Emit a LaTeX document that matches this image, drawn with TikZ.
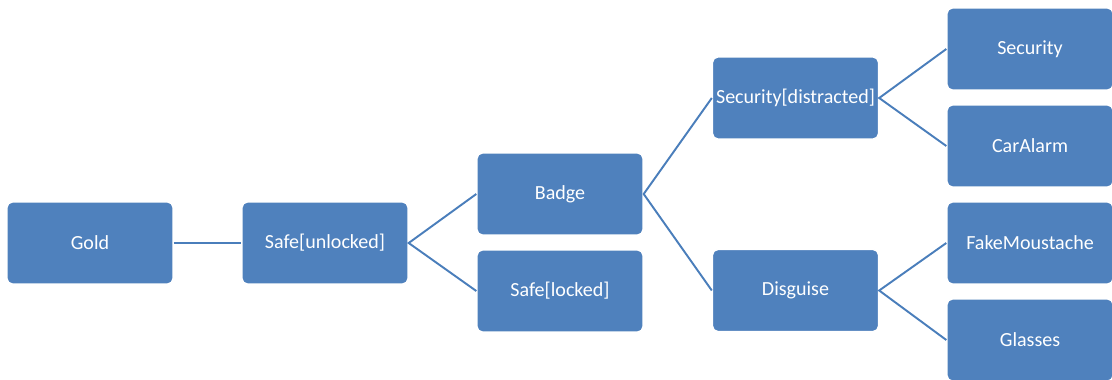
\documentclass[tikz,border=0pt]{standalone}
\usepackage{fontspec}
\setmainfont{Carlito}
\definecolor{boxblue}{HTML}{4F81BD}
\definecolor{lineblue}{HTML}{4A7EBB}

\begin{document}
\begin{tikzpicture}[x=0.02cm, y=-0.02cm,
        box/.style={
        rectangle, rounded corners=3pt, draw=white,
        line width=0.8pt, fill=boxblue, text=white,
        inner sep=0pt, minimum width=3.32cm, minimum height=1.64cm,
        font=\fontsize{11.4}{13}\selectfont},
        link/.style={draw=lineblue, line width=1.1pt},
        ]
        \useasboundingbox (0,0) rectangle (1112,379);

        \node (gold) [box]  at (90,243){Gold};
        \node (safeu) [box]  at (325,243){Safe[unlocked]};
        \node (badge) [box]  at (560,194){Badge};
        \node (safel) [box]  at (560,291){Safe[locked]};
        \node (secd) [box]  at (795.5,98){Security[distracted]};
        \node (disg) [box]  at (795.5,290.5){Disguise};
        \node (sec) [box]  at (1030,49){Security};
        \node (car) [box]  at (1030,146){CarAlarm};
        \node (fake) [box]  at (1030,243){FakeMoustache};
        \node (glass) [box]  at (1030,340){Glasses};

        \draw [link] (gold.east) -- (safeu.west);
        \draw [link] (badge.west) -- (safeu.east) -- (safel.west);
        \draw [link] (secd.west) -- (badge.east) -- (disg.west);
        \draw [link] (sec.west) -- (secd.east) -- (car.west);
        \draw [link] (fake.west) -- (disg.east) -- (glass.west);
    \end{tikzpicture}
\end{document}
